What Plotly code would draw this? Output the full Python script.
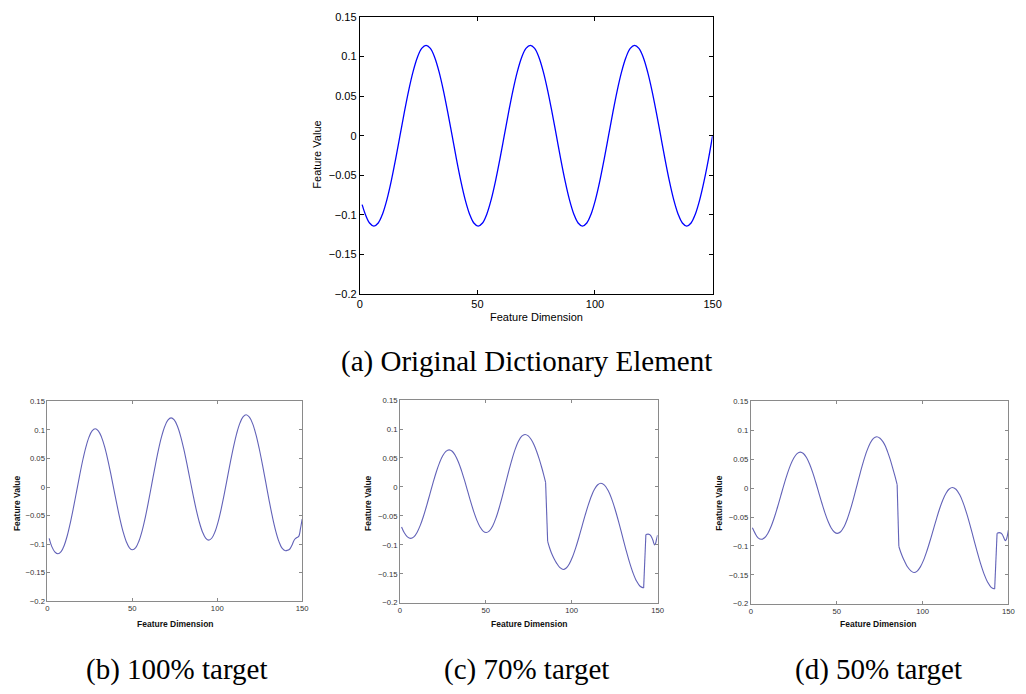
import plotly.graph_objects as go

# ---------------------------------------------------------------------------
# Data: feature value vs. feature dimension (1..150)
# ---------------------------------------------------------------------------

# (a) original dictionary element
x_orig = [1.0, 2.3, 4.15, 6.0,
          7.85, 9.69, 11.54, 13.39, 15.24, 17.09, 18.93, 20.78, 22.63, 24.48, 26.32, 28.17,
          30.02, 31.86, 33.71, 35.56, 37.41, 39.26, 41.10, 42.95, 44.80, 46.65, 48.49, 50.33,
          52.18, 54.03, 55.87, 57.72, 59.57, 61.42, 63.26, 65.11, 66.96, 68.81, 70.65, 72.5,
          74.35, 76.19, 78.04, 79.89, 81.74, 83.59, 85.43, 87.28, 89.13, 90.98, 92.82, 94.67,
          96.52, 98.36, 100.21, 102.06, 103.91, 105.76, 107.60, 109.45, 111.30, 113.15, 114.99, 116.83,
          118.68, 120.53, 122.37, 124.22, 126.07, 127.92, 129.76, 131.61, 133.46, 135.31, 137.15, 139.0,
          140.85, 142.69, 144.54, 146.39, 148.24, 150.0]
y_orig = [-0.087, -0.0987, -0.1101, -0.114,
          -0.1101, -0.0987, -0.0806, -0.057, -0.0295, 0.0, 0.0295, 0.057, 0.0806, 0.0987, 0.1101, 0.114,
          0.1101, 0.0987, 0.0806, 0.057, 0.0295, 0.0, -0.0295, -0.057, -0.0806, -0.0987, -0.1101, -0.114,
          -0.1101, -0.0987, -0.0806, -0.057, -0.0295, 0.0, 0.0295, 0.057, 0.0806, 0.0987, 0.1101, 0.114,
          0.1101, 0.0987, 0.0806, 0.057, 0.0295, 0.0, -0.0295, -0.057, -0.0806, -0.0987, -0.1101, -0.114,
          -0.1101, -0.0987, -0.0806, -0.057, -0.0295, 0.0, 0.0295, 0.057, 0.0806, 0.0987, 0.1101, 0.114,
          0.1101, 0.0987, 0.0806, 0.057, 0.0295, 0.0, -0.0295, -0.057, -0.0806, -0.0987, -0.1101, -0.114,
          -0.1101, -0.0987, -0.0806, -0.057, -0.0295, 0.0]

# (b) 100% target
x_t100 = [1.0, 2.5, 4.3, 6.2,
          8.03, 9.85, 11.68, 13.5, 15.33, 17.15, 18.98, 20.8, 22.63, 24.45, 26.28, 28.1,
          29.93, 31.77, 33.6, 35.43, 37.27, 39.1, 40.93, 42.77, 44.6, 46.43, 48.27, 50.1,
          51.99, 53.88, 55.78, 57.68, 59.56, 61.45, 63.34, 65.23, 67.12, 69.02, 70.91, 72.8,
          74.65, 76.5, 78.35, 80.2, 82.05, 83.9, 85.75, 87.6, 89.45, 91.3, 93.15, 95.0,
          96.83, 98.67, 100.5, 102.33, 104.17, 106.0, 107.83, 109.67, 111.5, 113.33, 115.17, 117.0,
          118.93, 120.87, 122.8, 124.73, 126.67, 128.6, 130.53, 132.47, 134.4, 136.33, 138.27, 140.2,
          141.4, 142.6, 143.9, 145.1, 146.0, 146.9, 148.0, 149.0, 150.0]
y_t100 = [-0.090, -0.104, -0.1135, -0.117,
          -0.1133, -0.1023, -0.0849, -0.0622, -0.0358, -0.0075, 0.0208, 0.0473, 0.0699, 0.0873, 0.0983, 0.102,
          0.0984, 0.0878, 0.071, 0.049, 0.0234, -0.004, -0.0314, -0.057, -0.079, -0.0958, -0.1064, -0.110,
          -0.1061, -0.0945, -0.0762, -0.0522, -0.0244, 0.0055, 0.0354, 0.0633, 0.0872, 0.1055, 0.1171, 0.121,
          0.1174, 0.1067, 0.0897, 0.0675, 0.0417, 0.014, -0.0137, -0.0395, -0.0617, -0.0787, -0.0894, -0.093,
          -0.0893, -0.0783, -0.0609, -0.0381, -0.0117, 0.0168, 0.0452, 0.0716, 0.0944, 0.1118, 0.1228, 0.1265,
          0.1225, 0.1106, 0.0917, 0.067, 0.0383, 0.0075, -0.0233, -0.052, -0.0767, -0.0956, -0.1075, -0.1115,
          -0.1107, -0.109, -0.1025, -0.094, -0.0905, -0.0885, -0.0865, -0.073, -0.056]
breaks_t100 = []

# (c) 70% target
x_t70 = [0.9, 2.5, 4.3, 6.2,
         8.07, 9.93, 11.8, 13.67, 15.53, 17.4, 19.27, 21.13, 23.0, 24.87, 26.73, 28.6,
         30.4, 32.2, 34.0, 35.8, 37.6, 39.4, 41.2, 43.0, 44.8, 46.6, 48.4, 50.2,
         52.08, 53.97, 55.85, 57.73, 59.62, 61.5, 63.38, 65.27, 67.15, 69.03, 70.92, 72.8,
         74.7, 76.5, 78.1, 79.6, 81.1, 82.5, 83.7, 84.8,
         86.0, 87.1, 88.2, 89.6, 91.1, 93.0, 95.0,
         96.83, 98.67, 100.5, 102.33, 104.17, 106.0, 107.83, 109.67, 111.5, 113.33, 115.17, 117.0,
         119.08, 121.15, 123.23, 125.3, 127.38, 129.45, 131.53, 133.6, 135.68, 137.75, 139.83, 141.9,
         143.2, 144.5, 145.3, 146.0, 146.7, 147.3, 147.8, 148.3, 148.8, 149.3, 150.0]
y_t70 = [-0.069, -0.079, -0.0861, -0.0887,
         -0.0861, -0.0785, -0.0663, -0.0505, -0.0321, -0.0123, 0.0074, 0.0258, 0.0416, 0.0538, 0.0614, 0.064,
         0.0616, 0.0544, 0.0431, 0.0283, 0.0112, -0.0073, -0.0258, -0.043, -0.0577, -0.069, -0.0762, -0.0786,
         -0.0757, -0.0673, -0.0538, -0.0363, -0.0159, 0.006, 0.0278, 0.0482, 0.0657, 0.0792, 0.0876, 0.0905,
         0.0881, 0.0815, 0.0725, 0.0613, 0.048, 0.034, 0.021, 0.008,
         -0.094, -0.105, -0.114, -0.123, -0.131, -0.139, -0.1424,
         -0.1399, -0.1324, -0.1206, -0.1052, -0.0873, -0.068, -0.0488, -0.0309, -0.0155, -0.0037, 0.0038, 0.0063,
         0.0032, -0.0058, -0.0202, -0.0389, -0.0607, -0.0842, -0.1076, -0.1294, -0.1481, -0.1625, -0.1715, -0.1746,
         -0.082, -0.0815, -0.082, -0.084, -0.0875, -0.092, -0.097, -0.100, -0.098, -0.092, -0.083]
breaks_t70 = [85.4, 142.5]

# (d) 50% target
x_t50 = [0.9, 2.5, 4.2, 6.1,
         7.99, 9.88, 11.78, 13.67, 15.56, 17.45, 19.34, 21.23, 23.12, 25.02, 26.91, 28.8,
         30.6, 32.4, 34.2, 36.0, 37.8, 39.6, 41.4, 43.2, 45.0, 46.8, 48.6, 50.4,
         52.31, 54.22, 56.13, 58.03, 59.94, 61.85, 63.76, 65.67, 67.58, 69.48, 71.39, 73.3,
         75.2, 77.0, 78.4, 79.6, 81.1, 82.5, 83.9, 85.2,
         86.2, 87.3, 88.5, 89.8, 91.2, 93.2, 95.0,
         96.87, 98.73, 100.6, 102.47, 104.33, 106.2, 108.07, 109.93, 111.8, 113.67, 115.53, 117.4,
         119.45, 121.5, 123.55, 125.6, 127.65, 129.7, 131.75, 133.8, 135.85, 137.9, 139.95, 142.0,
         143.4, 144.6, 145.8, 146.6, 147.2, 147.8, 148.3, 148.8, 149.4, 150.0]
y_t50 = [-0.0686, -0.0783, -0.086, -0.0885,
         -0.0859, -0.0784, -0.0664, -0.0508, -0.0327, -0.0131, 0.0064, 0.0245, 0.0401, 0.0521, 0.0596, 0.0622,
         0.0598, 0.0528, 0.0416, 0.0271, 0.0101, -0.0081, -0.0262, -0.0432, -0.0577, -0.0689, -0.0759, -0.0783,
         -0.0755, -0.0671, -0.0538, -0.0365, -0.0164, 0.0053, 0.0269, 0.047, 0.0643, 0.0776, 0.086, 0.0888,
         0.0863, 0.080, 0.0725, 0.063, 0.050, 0.036, 0.021, 0.006,
         -0.101, -0.111, -0.12, -0.128, -0.136, -0.143, -0.146,
         -0.1435, -0.1362, -0.1245, -0.1092, -0.0915, -0.0725, -0.0535, -0.0357, -0.0205, -0.0088, -0.0015, 0.001,
         -0.002, -0.0108, -0.0247, -0.0429, -0.064, -0.0868, -0.1095, -0.1306, -0.1488, -0.1627, -0.1715, -0.1745,
         -0.078, -0.077, -0.078, -0.081, -0.085, -0.089, -0.091, -0.089, -0.082, -0.0725]
breaks_t50 = [85.7, 142.7]

# Axis ticks
x_tick_vals = [0, 50, 100, 150]
y_tick_vals = [0.15, 0.1, 0.05, 0, -0.05, -0.1, -0.15, -0.2]
y_tick_text = ["0.15", "0.1", "0.05", "0", "\u22120.05", "\u22120.1", "\u22120.15", "\u22120.2"]

captions = ["(a) Original Dictionary Element", "(b) 100% target",
            "(c) 70% target", "(d) 50% target"]

# ---------------------------------------------------------------------------
W, H = 1026, 694


def split_at(xs, ys, breaks):
    """Split a series into continuous pieces at the given discontinuities."""
    pieces = [([], [])]
    bi = 0
    for x, y in zip(xs, ys):
        if bi < len(breaks) and x > breaks[bi]:
            pieces.append(([], []))
            bi += 1
        pieces[-1][0].append(x)
        pieces[-1][1].append(y)
    return pieces


fig = go.Figure()


def add_series(xs, ys, breaks, axis_id, color, width):
    xa = "x" if axis_id == 1 else f"x{axis_id}"
    ya = "y" if axis_id == 1 else f"y{axis_id}"
    pieces = split_at(xs, ys, breaks)
    for px_, py_ in pieces:
        fig.add_trace(go.Scatter(x=px_, y=py_, mode="lines", xaxis=xa, yaxis=ya,
                                 line=dict(color=color, width=width, shape="spline",
                                           smoothing=1.0),
                                 showlegend=False, hoverinfo="skip"))
    # vertical jumps between pieces
    for a, b in zip(pieces[:-1], pieces[1:]):
        fig.add_trace(go.Scatter(x=[a[0][-1], b[0][0]], y=[a[1][-1], b[1][0]],
                                 mode="lines", xaxis=xa, yaxis=ya,
                                 line=dict(color=color, width=width),
                                 showlegend=False, hoverinfo="skip"))


TOP_BLUE = "#0000ff"
LOW_BLUE = "#6262b8"

add_series(x_orig, y_orig, [], 1, TOP_BLUE, 1.3)
add_series(x_t100, y_t100, breaks_t100, 2, LOW_BLUE, 1.1)
add_series(x_t70, y_t70, breaks_t70, 3, LOW_BLUE, 1.1)
add_series(x_t50, y_t50, breaks_t50, 4, LOW_BLUE, 1.1)


def px_dom(a, b, total):
    return [a / total, b / total]


def py_dom(top, bottom):
    return [1 - bottom / H, 1 - top / H]


# plot-area rectangles in pixels: (left, right, top, bottom)
boxes = [(361, 718, 11, 293.3),
         (45, 302.7, 402.3, 605.7),
         (401.7, 662.3, 401, 607.3),
         (756.7, 1017.3, 402.3, 608.3)]

SANS = "Liberation Sans, Arial, sans-serif"

for i, (l, r, t, b) in enumerate(boxes, start=1):
    top = i == 1
    fcol = "#000000" if top else "#8a8a8a"
    tfont = dict(family=SANS, size=11 if top else 7.7,
                 color="#000000" if top else "#333333")
    common = dict(showline=True, linecolor=fcol, linewidth=1, mirror="ticks",
                  ticks="inside", ticklen=4 if top else 3, tickcolor=fcol,
                  tickwidth=1, showgrid=False, zeroline=False, tickfont=tfont,
                  fixedrange=True)
    xname = "xaxis" if i == 1 else f"xaxis{i}"
    yname = "yaxis" if i == 1 else f"yaxis{i}"
    fig.layout[xname] = dict(domain=px_dom(l, r, W), range=[0, 150],
                             anchor="y" if i == 1 else f"y{i}",
                             tickvals=x_tick_vals, **common)
    fig.layout[yname] = dict(domain=py_dom(t, b), range=[-0.2, 0.15],
                             anchor="x" if i == 1 else f"x{i}",
                             tickvals=y_tick_vals, ticktext=y_tick_text, **common)

annotations = []


def label(text, cx, cy, size, family, color="#000", angle=0):
    annotations.append(dict(text=text, x=cx / W, y=1 - cy / H, xref="paper",
                            yref="paper", xanchor="center", yanchor="middle",
                            showarrow=False, textangle=angle,
                            font=dict(family=family, size=size, color=color)))


# axis titles
label("Feature Dimension", 539.5, 316, 11, SANS)
label("Feature Value", 318, 151, 11, SANS, angle=-90)
for cx, vx in [(175, 14), (533, 370), (886, 725)]:
    label("<b>Feature Dimension</b>", cx, 629, 8.5, SANS, "#111")
    label("<b>Feature Value</b>", vx, 506, 8.5, SANS, "#111", angle=-90)

# sub-figure captions
SERIF = "Liberation Serif, Times New Roman, serif"
for text, cx, cy in zip(captions, [530, 176, 530, 886], [362, 675, 675, 675]):
    label(text, cx, cy, 29, SERIF)

fig.update_layout(width=W, height=H, margin=dict(l=0, r=0, t=0, b=0),
                  paper_bgcolor="white", plot_bgcolor="white",
                  annotations=annotations, showlegend=False)

fig.write_html("out.html", config={"displayModeBar": False})
